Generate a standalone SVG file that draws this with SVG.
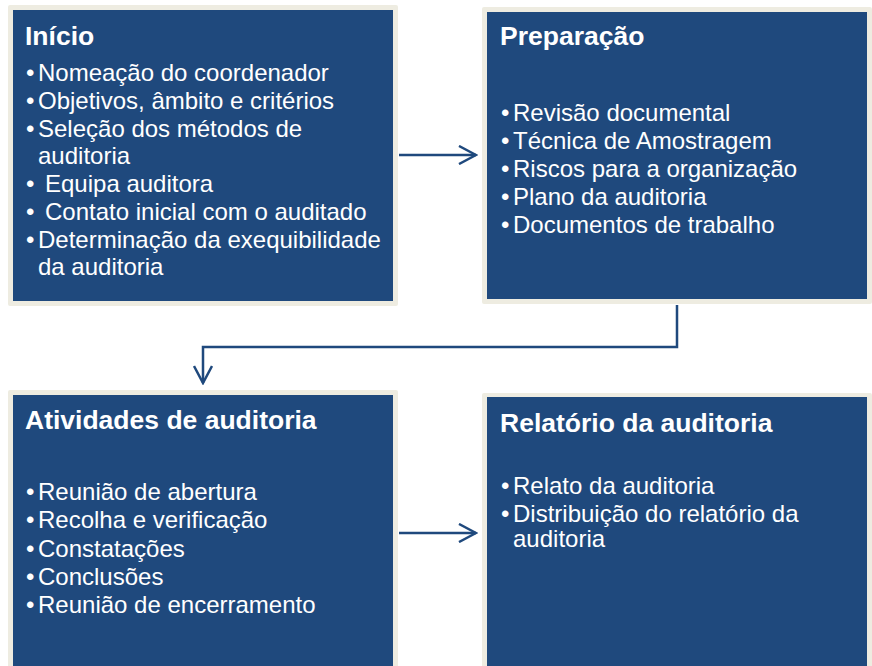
<svg xmlns="http://www.w3.org/2000/svg" width="872" height="666" viewBox="0 0 872 666">
<style>
.frame{fill:#EEECE1}
.box{fill:#1F497D}
.title{font-family:"Liberation Sans",Arial,sans-serif;font-weight:bold;font-size:26.5px;fill:#FFFFFF}
.body{font-family:"Liberation Sans",Arial,sans-serif;font-size:24px;fill:#FFFFFF}
.conn{fill:none;stroke:#1F497D;stroke-width:2.5}
</style>
<defs>
<marker id="arr" viewBox="0 0 20 20" refX="18" refY="10" markerWidth="20" markerHeight="20" markerUnits="userSpaceOnUse" orient="auto">
<path d="M1,1 L18,10 L1,19" fill="none" stroke="#1F497D" stroke-width="2.5"/>
</marker>
</defs>
<rect width="872" height="666" fill="#FFFFFF"/>
<g id="inicio">
<rect class="frame" x="8" y="5" width="390" height="301" rx="2"/>
<rect class="box" x="13" y="10" width="380" height="291"/>
<text class="title" x="25" y="45">Início</text>
<g class="body">
<text x="26" y="81">•</text><text x="38" y="81">Nomeação do coordenador</text>
<text x="26" y="109">•</text><text x="38" y="109">Objetivos, âmbito e critérios</text>
<text x="26" y="137">•</text><text x="38" y="137">Seleção dos métodos de</text>
<text x="38" y="164">auditoria</text>
<text x="26" y="192">•</text><text x="45" y="192">Equipa auditora</text>
<text x="26" y="220">•</text><text x="45" y="220">Contato inicial com o auditado</text>
<text x="26" y="248">•</text><text x="38" y="248">Determinação da exequibilidade</text>
<text x="38" y="275">da auditoria</text>
</g>
</g>
<g id="preparacao">
<rect class="frame" x="482" y="7" width="390" height="297" rx="2"/>
<rect class="box" x="487" y="12" width="380" height="287"/>
<text class="title" x="500" y="45">Preparação</text>
<g class="body">
<text x="501" y="121">•</text><text x="513" y="121">Revisão documental</text>
<text x="501" y="149">•</text><text x="513" y="149">Técnica de Amostragem</text>
<text x="501" y="177">•</text><text x="513" y="177">Riscos para a organização</text>
<text x="501" y="205">•</text><text x="513" y="205">Plano da auditoria</text>
<text x="501" y="233">•</text><text x="513" y="233">Documentos de trabalho</text>
</g>
</g>
<g id="atividades">
<rect class="frame" x="8" y="390" width="390" height="290" rx="2"/>
<rect class="box" x="13" y="395" width="380" height="280"/>
<text class="title" x="25" y="429">Atividades de auditoria</text>
<g class="body">
<text x="26" y="500">•</text><text x="38" y="500">Reunião de abertura</text>
<text x="26" y="528">•</text><text x="38" y="528">Recolha e verificação</text>
<text x="26" y="557">•</text><text x="38" y="557">Constatações</text>
<text x="26" y="585">•</text><text x="38" y="585">Conclusões</text>
<text x="26" y="613">•</text><text x="38" y="613">Reunião de encerramento</text>
</g>
</g>
<g id="relatorio">
<rect class="frame" x="482" y="393" width="390" height="290" rx="2"/>
<rect class="box" x="487" y="397" width="380" height="280"/>
<text class="title" x="500" y="432">Relatório da auditoria</text>
<g class="body">
<text x="501" y="494">•</text><text x="513" y="494">Relato da auditoria</text>
<text x="501" y="522">•</text><text x="513" y="522">Distribuição do relatório da</text>
<text x="513" y="547">auditoria</text>
</g>
</g>
<g id="connectors">
<path class="conn" d="M399,155 H476" marker-end="url(#arr)"/>
<path class="conn" d="M677,305 V347 H203 V383" marker-end="url(#arr)"/>
<path class="conn" d="M399,533 H476" marker-end="url(#arr)"/>
</g>
</svg>
